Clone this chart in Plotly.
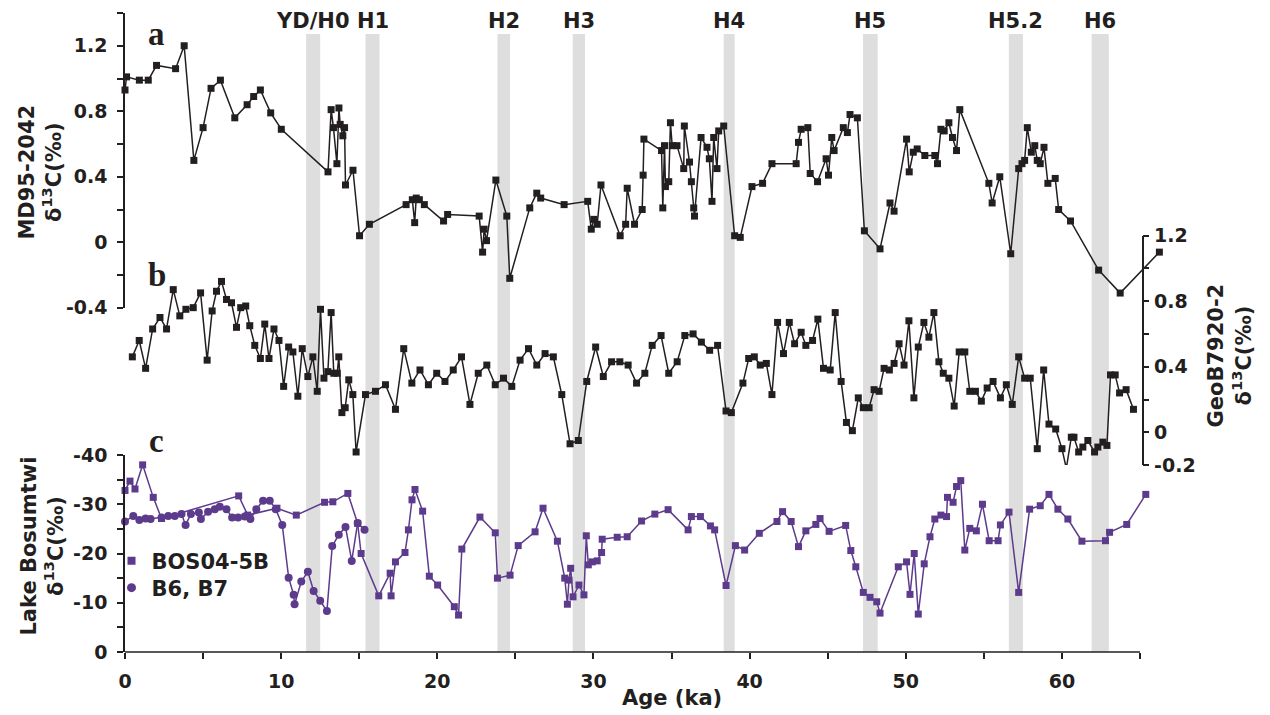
import plotly.graph_objects as go

# ---------------- data ----------------
# a: MD95-2042 benthic d13C (permil)
a_age = [0.0, 0.1, 0.92, 1.49, 2.02, 3.24, 3.79, 4.41, 5.0, 5.51, 6.11, 7.03, 7.82, 8.24, 8.67, 9.33, 10.01,
         13.0, 13.2, 13.35, 13.57, 13.7, 13.78, 13.95, 14.06, 14.12, 14.6, 15.02, 15.65,
         18.0, 18.4, 18.55, 18.65, 18.85, 19.17, 20.4, 20.66, 22.68, 22.9, 23.0, 23.15, 23.75, 24.45, 24.64,
         25.92, 26.37, 26.62, 28.12, 29.63, 29.86, 30.03, 30.24, 30.48, 31.71, 32.06, 32.16, 32.63, 33.12,
         33.18, 33.23, 34.36, 34.44, 34.55, 34.61, 34.82, 34.93, 35.04, 35.35, 35.78, 35.82, 36.15, 36.27,
         36.42, 36.47, 36.89, 37.27, 37.42, 37.59, 37.7, 37.91, 38.02, 38.34, 39.04, 39.4, 40.15, 40.83,
         41.43, 42.98, 43.13, 43.3, 43.73, 43.88, 44.35, 44.9, 45.05, 45.26, 45.41, 46.0, 46.26, 46.43,
         46.9, 47.35, 48.35, 48.99, 49.25, 50.05, 50.22, 50.48, 50.73, 51.22, 51.86, 52.03, 52.25, 52.46,
         52.76, 52.99, 53.25, 53.46, 55.32, 55.53, 56.02, 56.72, 57.23, 57.44, 57.61, 57.78, 58.04, 58.26,
         58.42, 58.61, 58.85, 59.1, 59.57, 59.79, 60.55, 62.35, 63.73, 66.24]
a_val = [0.93, 1.01, 0.99, 0.99, 1.08, 1.06, 1.20, 0.50, 0.70, 0.94, 0.99, 0.76, 0.84, 0.89, 0.93, 0.79, 0.69,
         0.43, 0.81, 0.70, 0.48, 0.82, 0.72, 0.65, 0.70, 0.35, 0.44, 0.04, 0.11,
         0.23, 0.26, 0.12, 0.27, 0.26, 0.23, 0.13, 0.17, 0.16, -0.06, 0.08, 0.01, 0.38, 0.16, -0.22,
         0.21, 0.30, 0.27, 0.23, 0.25, 0.08, 0.14, 0.11, 0.35, 0.04, 0.11, 0.33, 0.11, 0.20,
         0.41, 0.63, 0.56, 0.21, 0.59, 0.34, 0.37, 0.73, 0.59, 0.59, 0.45, 0.71, 0.49, 0.37,
         0.21, 0.16, 0.64, 0.58, 0.51, 0.25, 0.64, 0.45, 0.68, 0.71, 0.04, 0.03, 0.34, 0.36,
         0.48, 0.48, 0.61, 0.69, 0.70, 0.42, 0.37, 0.51, 0.41, 0.64, 0.56, 0.70, 0.67, 0.78,
         0.76, 0.07, -0.04, 0.24, 0.19, 0.63, 0.43, 0.55, 0.57, 0.53, 0.53, 0.48, 0.69, 0.68,
         0.73, 0.64, 0.56, 0.81, 0.36, 0.24, 0.40, -0.07, 0.45, 0.48, 0.50, 0.70, 0.55, 0.59,
         0.50, 0.48, 0.58, 0.36, 0.39, 0.20, 0.13, -0.17, -0.31, -0.06]

# b: GeoB7920-2 benthic d13C (permil)
b_age = [0.47, 0.91, 1.32, 1.77, 2.24, 2.66, 3.09, 3.51, 3.9, 4.37, 4.84, 5.26, 5.58, 5.86, 6.18, 6.5, 6.82,
         7.14, 7.41, 7.73, 7.99, 8.31, 8.67, 8.95, 9.22, 9.54, 9.86, 10.16, 10.48, 10.75, 11.07, 11.35,
         11.71, 12.03, 12.31, 12.52, 12.74, 12.99, 13.2, 13.37, 13.59, 13.69, 13.89, 14.1, 14.33, 14.59,
         14.8, 15.4, 16.04, 16.68, 17.32, 17.85, 18.37, 18.89, 19.43, 19.96, 20.49, 21.02, 21.55, 22.09,
         22.62, 23.17, 23.71, 24.24, 24.77, 25.3, 25.84, 26.37, 26.9, 27.43, 27.97, 28.5, 29.03, 29.57,
         30.14, 30.63, 31.16, 31.69, 32.22, 32.76, 33.29, 33.76, 34.33, 34.82, 35.36, 35.85, 36.38, 36.91,
         37.44, 37.95, 38.49, 38.83, 39.57, 39.94, 40.3, 40.68, 41.07, 41.43, 41.79, 42.17, 42.54, 42.88,
         43.3, 43.6, 44.03, 44.37, 44.73, 45.16, 45.48, 45.86, 46.2, 46.58, 46.96, 47.28, 47.65, 47.97,
         48.29, 48.61, 48.95, 49.25, 49.57, 49.89, 50.2, 50.52, 50.8, 51.16, 51.48, 51.8, 52.12, 52.4,
         52.76, 53.1, 53.42, 53.78, 54.1, 54.46, 54.84, 55.21, 55.59, 56.06, 56.44, 56.82, 57.23, 57.61,
         57.97, 58.42, 58.83, 59.17, 59.6, 60.0, 60.28, 60.6, 60.77, 61.07, 61.34, 61.66, 62.09, 62.3,
         62.62, 62.88, 63.11, 63.41, 63.69, 64.11, 64.58]
b_val = [0.46, 0.56, 0.39, 0.63, 0.70, 0.63, 0.87, 0.71, 0.75, 0.76, 0.85, 0.44, 0.74, 0.86, 0.92, 0.81, 0.79,
         0.64, 0.76, 0.77, 0.65, 0.53, 0.45, 0.66, 0.45, 0.63, 0.56, 0.28, 0.52, 0.49, 0.22, 0.51,
         0.34, 0.46, 0.25, 0.75, 0.33, 0.37, 0.73, 0.36, 0.36, 0.46, 0.12, 0.15, 0.32, 0.23,
         -0.12, 0.23, 0.25, 0.29, 0.14, 0.51, 0.30, 0.38, 0.29, 0.36, 0.31, 0.38, 0.46, 0.17,
         0.36, 0.41, 0.29, 0.33, 0.28, 0.44, 0.51, 0.41, 0.48, 0.46, 0.23, -0.07, -0.05, 0.31,
         0.52, 0.34, 0.43, 0.43, 0.41, 0.30, 0.36, 0.53, 0.59, 0.36, 0.43, 0.59, 0.60, 0.55,
         0.50, 0.53, 0.13, 0.12, 0.30, 0.45, 0.46, 0.41, 0.42, 0.23, 0.67, 0.48, 0.67, 0.54,
         0.61, 0.53, 0.56, 0.69, 0.39, 0.38, 0.73, 0.31, 0.06, 0.01, 0.21, 0.15, 0.15, 0.26,
         0.25, 0.39, 0.38, 0.42, 0.54, 0.41, 0.68, 0.21, 0.52, 0.67, 0.58, 0.73, 0.43, 0.36,
         0.33, 0.16, 0.49, 0.49, 0.25, 0.25, 0.19, 0.27, 0.31, 0.21, 0.29, 0.17, 0.46, 0.33,
         0.33, -0.10, 0.38, 0.05, 0.02, -0.10, -0.22, -0.03, -0.03, -0.12, -0.09, -0.05, -0.12, -0.09,
         -0.06, -0.08, 0.35, 0.35, 0.24, 0.26, 0.14]

# c: Lake Bosumtwi d13C (permil)
bos_age = [0.0, 0.32, 0.64, 1.13, 1.81, 2.34, 7.28, 7.86, 9.73, 10.97, 12.78, 13.31, 14.27, 14.9, 15.12,
           16.25, 16.98, 17.04, 17.32, 17.93, 18.15, 18.38, 18.57, 19.06, 19.49, 20.02, 21.09, 21.36, 21.57,
           22.73, 23.71, 23.85, 24.66, 25.18, 26.26, 26.77, 27.69, 28.16, 28.33, 28.43, 28.54, 28.69, 29.07,
           29.39, 29.54, 29.67, 29.92, 30.24, 30.52, 30.56, 31.52, 32.16, 33.08, 33.93, 34.78, 36.06, 36.27,
           36.85, 37.49, 37.76, 38.49, 39.09, 39.68, 40.62, 41.75, 42.11, 42.66, 43.13, 43.6, 44.24, 44.51,
           45.09, 46.15, 46.48, 46.8, 47.28, 47.71, 48.14, 48.35, 49.52, 50.05, 50.27, 50.54, 50.8, 51.18,
           51.55, 51.86, 52.25, 52.61, 52.67, 53.03, 53.25, 53.52, 53.78, 54.1, 54.52, 54.91, 55.34, 55.91,
           56.06, 56.61, 57.23, 57.93, 58.61, 59.17, 59.74, 60.38, 61.28, 62.79, 63.05, 64.15, 65.37]
bos_val = [-32.8, -34.7, -33.1, -38.0, -31.4, -27.1, -31.7, -27.8, -29.2, -27.8, -30.4, -30.5, -32.2, -26.1, -20.0,
           -11.4, -16.0, -11.4, -18.3, -20.2, -24.8, -30.9, -33.0, -28.6, -15.4, -13.6, -9.2, -7.5, -20.9,
           -27.4, -24.2, -15.0, -15.6, -21.6, -24.4, -29.2, -22.5, -15.0, -9.7, -14.6, -17.0, -11.2, -13.6,
           -11.6, -23.6, -17.7, -18.3, -18.5, -20.2, -22.9, -23.3, -23.4, -26.6, -28.0, -28.9, -24.8, -27.5,
           -27.5, -25.6, -24.8, -13.5, -21.6, -20.7, -24.1, -26.5, -28.5, -26.5, -21.4, -24.6, -25.9, -27.1,
           -24.5, -25.7, -20.6, -17.3, -12.1, -11.1, -10.2, -7.9, -17.3, -18.3, -11.7, -20.0, -7.7, -17.9,
           -23.4, -27.0, -27.8, -27.5, -31.4, -30.4, -33.6, -34.8, -20.7, -25.1, -24.6, -30.0, -22.6, -22.6,
           -25.8, -28.4, -12.1, -29.0, -29.7, -32.0, -29.0, -27.0, -22.5, -22.6, -24.3, -25.9, -32.0]

b67_age = [0.0, 0.53, 0.92, 1.32, 1.64, 2.34, 2.77, 3.19, 3.62, 3.88, 4.22, 4.73, 4.86, 5.32, 5.75, 6.07, 6.5,
           6.86, 7.24, 7.67, 8.03, 8.41, 8.84, 9.27, 9.65, 10.07, 10.48, 10.8, 10.86, 11.29, 11.71, 12.08,
           12.5, 12.93, 13.27, 13.69, 14.12, 14.52, 14.9, 15.34]
b67_val = [-26.5, -27.6, -26.8, -27.1, -27.0, -27.3, -27.6, -27.6, -28.0, -25.8, -28.0, -28.3, -27.0, -28.5,
           -29.0, -29.5, -29.0, -27.3, -27.3, -27.5, -27.0, -29.0, -30.7, -30.7, -29.0, -25.8, -15.1, -11.6,
           -9.7, -14.3, -16.3, -12.4, -10.4, -8.3, -21.5, -23.8, -25.4, -18.5, -26.2, -24.8]

events = ["YD/H0", "H1", "H2", "H3", "H4", "H5", "H5.2", "H6"]
event_start = [11.6, 15.4, 23.85, 28.67, 38.34, 47.26, 56.6, 61.9]
event_end = [12.5, 16.3, 24.66, 29.46, 39.04, 48.2, 57.5, 63.0]

a_major = [-0.4, 0, 0.4, 0.8, 1.2]
a_major_text = ["-0.4", "0", "0.4", "0.8", "1.2"]
a_minor = [-0.2, 0.2, 0.6, 1.0, 1.4]
b_major = [-0.2, 0, 0.4, 0.8, 1.2]
b_major_text = ["-0.2", "0", "0.4", "0.8", "1.2"]
b_minor = [0.2, 0.6, 1.0]
c_major = [0, -10, -20, -30, -40]
c_minor = [-5, -15, -25, -35]
x_major = [0, 10, 20, 30, 40, 50, 60]
x_minor = [5, 15, 25, 35, 45, 55, 65]

# ---------------- geometry ----------------
W, H = 1270, 715
L = 124.5
PX_PER_KA = 15.63
XMAX = 66.6
PLOT_W = XMAX * PX_PER_KA
R = W - L - PLOT_W
T, B = 13, 652


def fy(py):
    return (B - py) / (B - T)


def fx(px):
    return (px - L) / PLOT_W


BLACK = "#231f20"
PURPLE = "#5d3b8c"
GREY = "#dedede"
SANS = "DejaVu Sans"
SERIF = "Liberation Serif"

tickfont = dict(family=SANS, size=19, color=BLACK, weight="bold")

fig = go.Figure()

fig.add_trace(go.Scatter(x=a_age, y=a_val, yaxis="y", mode="lines+markers",
                         line=dict(color=BLACK, width=1.5),
                         marker=dict(symbol="square", size=7, color=BLACK),
                         cliponaxis=False, showlegend=False, name="MD95-2042"))
fig.add_trace(go.Scatter(x=b_age, y=b_val, yaxis="y2", mode="lines+markers",
                         line=dict(color=BLACK, width=1.5),
                         marker=dict(symbol="square", size=7, color=BLACK),
                         cliponaxis=False, showlegend=False, name="GeoB7920-2"))
fig.add_trace(go.Scatter(x=bos_age, y=bos_val, yaxis="y3", mode="lines+markers",
                         line=dict(color=PURPLE, width=1.5),
                         marker=dict(symbol="square", size=7, color=PURPLE),
                         cliponaxis=False, showlegend=False, name="BOS04-5B"))
fig.add_trace(go.Scatter(x=b67_age, y=b67_val, yaxis="y3", mode="lines+markers",
                         line=dict(color=PURPLE, width=1.5),
                         marker=dict(symbol="circle", size=8, color=PURPLE),
                         cliponaxis=False, showlegend=False, name="B6, B7"))
# legend entries
fig.add_trace(go.Scatter(x=[None], y=[None], yaxis="y3", mode="markers", legend="legend",
                         marker=dict(symbol="square", size=8, color=PURPLE), name="BOS04-5B"))
fig.add_trace(go.Scatter(x=[None], y=[None], yaxis="y3", mode="markers", legend="legend2",
                         marker=dict(symbol="circle", size=9, color=PURPLE), name="B6, B7"))

shapes = []
for s, e in zip(event_start, event_end):
    shapes.append(dict(type="rect", xref="x", yref="paper", x0=s, x1=e, y0=0, y1=fy(34),
                       fillcolor=GREY, line=dict(width=0), layer="below"))
shapes.append(dict(type="line", xref="x", yref="paper", x0=0, x1=65, y0=0, y1=0,
                   line=dict(color=BLACK, width=1.5)))

annotations = []
for name, s, e in zip(events, event_start, event_end):
    annotations.append(dict(text=name, x=(s + e) / 2, xref="x", y=fy(21), yref="paper",
                            showarrow=False, xanchor="center", yanchor="middle",
                            font=dict(family=SANS, size=21, color=BLACK, weight="bold")))
for letter, px, py in [("a", 156, 34), ("b", 157, 275), ("c", 156, 441)]:
    annotations.append(dict(text=letter, x=fx(px), xref="paper", y=fy(py), yref="paper",
                            showarrow=False, xanchor="center", yanchor="middle",
                            font=dict(family=SERIF, size=33, color=BLACK, weight="bold")))
titles = [("MD95-2042<br>δ<sup>13</sup>C(‰)", 39, 172),
          ("Lake Bosumtwi<br>δ<sup>13</sup>C(‰)", 41, 546),
          ("GeoB7920-2<br>δ<sup>13</sup>C(‰)", 1231, 355)]
for txt, px, py in titles:
    annotations.append(dict(text=txt, x=fx(px), xref="paper", y=fy(py), yref="paper",
                            showarrow=False, xanchor="center", yanchor="middle", textangle=-90,
                            font=dict(family=SANS, size=21, color=BLACK, weight="bold")))
annotations.append(dict(text="Age (ka)", x=fx(672), xref="paper", y=fy(698), yref="paper",
                        showarrow=False, xanchor="center", yanchor="middle",
                        font=dict(family=SANS, size=21, color=BLACK, weight="bold")))

axis_common = dict(showgrid=False, zeroline=False, ticks="outside", ticklen=6, tickwidth=1.5,
                   tickcolor=BLACK, tickfont=tickfont, linecolor=BLACK, linewidth=1.5,
                   automargin=False)


def minor(vals):
    return dict(tickvals=vals, ticks="outside", ticklen=6, tickwidth=1.5, tickcolor=BLACK,
                showgrid=False)


legend_font = dict(family=SANS, size=21, color=BLACK, weight="bold")

fig.update_layout(
    width=W, height=H,
    margin=dict(l=L, r=R, t=T, b=H - B, pad=0, autoexpand=False),
    paper_bgcolor="white", plot_bgcolor="rgba(0,0,0,0)",
    xaxis=dict(range=[0, XMAX], domain=[0, 1], anchor="y3", showline=False,
               tickvals=x_major, ticktext=[str(v) for v in x_major], minor=minor(x_minor),
               ticklabelstandoff=6, **axis_common),
    yaxis=dict(domain=[fy(307.8), 1.0], range=[-0.4, 1.4], anchor="x", side="left", showline=True,
               tickvals=a_major, ticktext=a_major_text, minor=minor(a_minor),
               ticklabelstandoff=6, **axis_common),
    yaxis2=dict(domain=[fy(465.1), fy(235.5)], range=[-0.2, 1.2], anchor="free", position=fx(1143),
                side="right", showline=True, tickvals=b_major, ticktext=b_major_text,
                minor=minor(b_minor), ticklabelstandoff=1, **axis_common),
    yaxis3=dict(domain=[0, fy(455)], range=[0, -40], anchor="x", side="left", showline=True,
                tickvals=c_major, ticktext=[str(v) for v in c_major], minor=minor(c_minor),
                ticklabelstandoff=6, **axis_common),
    shapes=shapes,
    annotations=annotations,
    showlegend=True,
    legend=dict(x=fx(111), y=fy(561), xanchor="left", yanchor="middle", bgcolor="rgba(0,0,0,0)",
                font=legend_font, itemwidth=30),
    legend2=dict(x=fx(111), y=fy(588), xanchor="left", yanchor="middle", bgcolor="rgba(0,0,0,0)",
                 font=legend_font, itemwidth=30),
)

fig.write_html("out.html")
